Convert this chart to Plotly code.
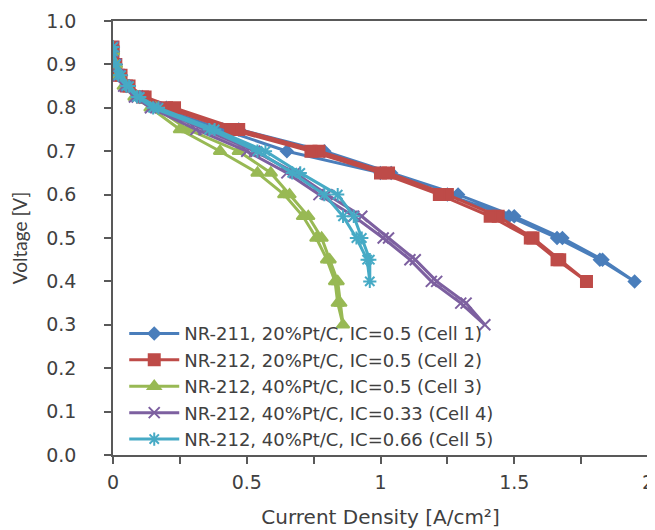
import plotly.graph_objects as go

# ---- data (forward sweep then return sweep) ----
names = [
    "NR-211, 20%Pt/C, IC=0.5 (Cell 1)",
    "NR-212, 20%Pt/C, IC=0.5 (Cell 2)",
    "NR-212, 40%Pt/C, IC=0.5 (Cell 3)",
    "NR-212, 40%Pt/C, IC=0.33 (Cell 4)",
    "NR-212, 40%Pt/C, IC=0.66 (Cell 5)",
]

cell1_v = [0.94, 0.90, 0.875, 0.85, 0.825, 0.80, 0.75, 0.70, 0.65, 0.60, 0.55, 0.50, 0.45, 0.40,
           0.45, 0.50, 0.55, 0.60, 0.65, 0.70, 0.75, 0.80, 0.825, 0.85, 0.875, 0.90, 0.93]
cell1_i = [0.00, 0.01, 0.03, 0.06, 0.11, 0.20, 0.47, 0.79, 1.04, 1.29, 1.50, 1.68, 1.83, 1.95,
           1.82, 1.66, 1.48, 1.25, 1.00, 0.65, 0.41, 0.17, 0.10, 0.05, 0.02, 0.01, 0.00]

cell2_v = [0.93, 0.90, 0.875, 0.85, 0.825, 0.80, 0.75, 0.70, 0.65, 0.60, 0.55, 0.50, 0.45, 0.40,
           0.45, 0.50, 0.55, 0.60, 0.65, 0.70, 0.75, 0.80, 0.825, 0.85, 0.875, 0.90, 0.94]
cell2_i = [0.00, 0.01, 0.03, 0.06, 0.12, 0.23, 0.47, 0.77, 1.03, 1.25, 1.44, 1.57, 1.67, 1.77,
           1.66, 1.56, 1.41, 1.22, 1.00, 0.74, 0.44, 0.20, 0.11, 0.05, 0.02, 0.01, 0.00]

cell3_v = [0.93, 0.90, 0.875, 0.85, 0.825, 0.80, 0.75, 0.70, 0.65, 0.60, 0.55, 0.50, 0.45, 0.40, 0.35, 0.30,
           0.35, 0.40, 0.45, 0.50, 0.55, 0.60, 0.65, 0.70, 0.75, 0.80, 0.825, 0.85, 0.875, 0.90, 0.93]
cell3_i = [0.00, 0.01, 0.02, 0.05, 0.09, 0.16, 0.28, 0.47, 0.59, 0.66, 0.73, 0.78, 0.81, 0.84, 0.85, 0.86,
           0.84, 0.83, 0.80, 0.76, 0.71, 0.64, 0.54, 0.40, 0.25, 0.14, 0.08, 0.04, 0.02, 0.01, 0.00]

cell4_v = [0.93, 0.90, 0.875, 0.85, 0.825, 0.80, 0.75, 0.70, 0.65, 0.60, 0.55, 0.50, 0.45, 0.40, 0.35, 0.30,
           0.35, 0.40, 0.45, 0.50, 0.55, 0.60, 0.65, 0.70, 0.75, 0.80, 0.825, 0.85, 0.875, 0.90, 0.94]
cell4_i = [0.00, 0.01, 0.02, 0.05, 0.09, 0.16, 0.34, 0.53, 0.68, 0.80, 0.93, 1.03, 1.13, 1.21, 1.32, 1.39,
           1.30, 1.19, 1.11, 1.01, 0.90, 0.77, 0.65, 0.50, 0.31, 0.14, 0.08, 0.04, 0.02, 0.01, 0.00]

cell5_v = [0.94, 0.90, 0.875, 0.85, 0.825, 0.80, 0.75, 0.70, 0.65, 0.60, 0.55, 0.50, 0.45, 0.40,
           0.45, 0.50, 0.55, 0.60, 0.65, 0.70, 0.75, 0.80, 0.825, 0.85, 0.875, 0.90, 0.93]
cell5_i = [0.00, 0.01, 0.03, 0.06, 0.10, 0.17, 0.38, 0.57, 0.70, 0.84, 0.90, 0.93, 0.96, 0.96,
           0.95, 0.91, 0.86, 0.79, 0.67, 0.54, 0.36, 0.15, 0.09, 0.05, 0.02, 0.01, 0.00]

x_ticks = [0, 0.5, 1, 1.5, 2]
x_tick_labels = ["0", "0.5", "1", "1.5", "2"]
y_ticks = [0.0, 0.1, 0.2, 0.3, 0.4, 0.5, 0.6, 0.7, 0.8, 0.9, 1.0]

colors = ["#4A7EBB", "#BE4B48", "#98B954", "#7D60A0", "#46AAC5"]
symbols = ["diamond", "square", "triangle-up", "x-thin-open", "asterisk-open"]
sizes = [9, 11, 11, 11, 11]

series = [(cell1_i, cell1_v), (cell2_i, cell2_v), (cell3_i, cell3_v),
          (cell4_i, cell4_v), (cell5_i, cell5_v)]

fig = go.Figure()
for k, (xi, yv) in enumerate(series):
    fig.add_trace(go.Scatter(
        x=xi, y=yv, name=names[k], mode="lines+markers",
        line=dict(color=colors[k], width=3),
        marker=dict(symbol=symbols[k], size=sizes[k], color=colors[k],
                    line=dict(color=colors[k], width=2)),
    ))

axis_color = "#595959"
fig.update_layout(
    width=655, height=530,
    margin=dict(l=105, r=15, t=13, b=83),
    paper_bgcolor="white", plot_bgcolor="white",
    font=dict(family="DejaVu Sans", size=19, color="#404040"),
    showlegend=True,
    legend=dict(x=0.021, y=0.322, xanchor="left", yanchor="top",
                bgcolor="rgba(0,0,0,0)", font=dict(size=18, color="#404040"),
                tracegroupgap=0, itemwidth=50),
    xaxis=dict(range=[0, 2], tickvals=x_ticks, ticktext=x_tick_labels, automargin=False,
               showgrid=False, zeroline=False, showline=True, linecolor=axis_color, linewidth=1.5,
               mirror=True, ticks="outside", ticklen=7, tickcolor=axis_color, tickwidth=1.5,
               minor=dict(dtick=0.25, ticks="outside", ticklen=7, tickcolor=axis_color, tickwidth=1.5),
               ticklabelstandoff=2,
               title=dict(text="Current Density [A/cm²]", font=dict(size=20), standoff=18)),
    yaxis=dict(range=[0, 1], tickvals=y_ticks, tickformat=".1f", automargin=False,
               showgrid=False, zeroline=False, showline=True, linecolor=axis_color, linewidth=1.5,
               mirror=True, ticks="outside", ticklen=7, tickcolor=axis_color, tickwidth=1.5,
               ticklabelstandoff=24,
               title=dict(text="Voltage [V]", font=dict(family="Lato", size=19), standoff=14)),
)

fig.write_html("out.html")
